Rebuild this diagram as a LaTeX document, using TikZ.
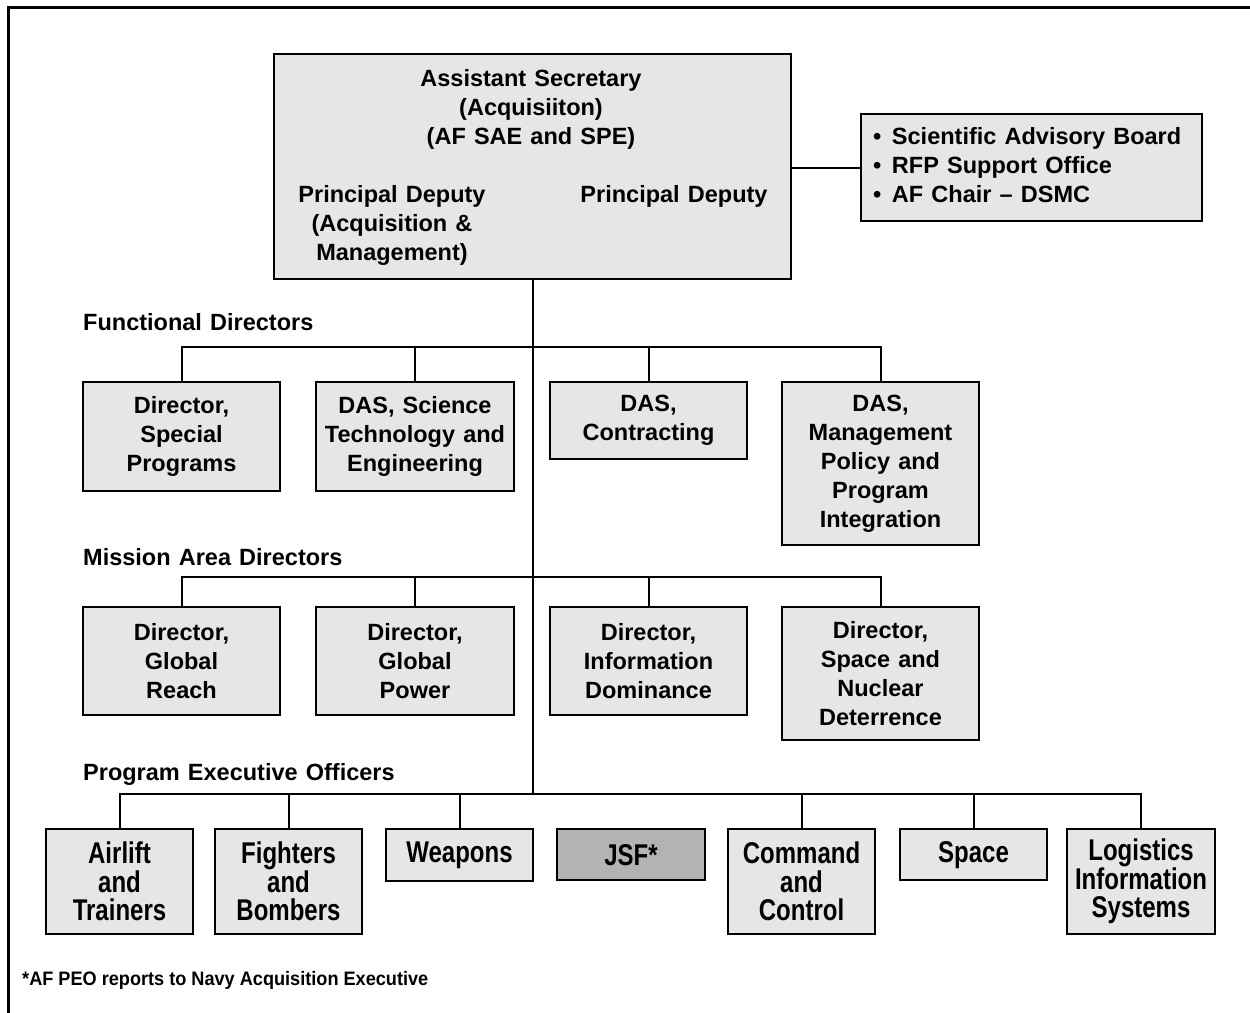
\documentclass[tikz,border=0pt]{standalone}
\usepackage{fontspec}
\newfontfamily\hd{Liberation Sans}[WordSpace={1.25}]
\newfontfamily\nar{Liberation Sans}[FakeStretch=0.8]
\newfontfamily\fnf{Liberation Sans}[FakeStretch=0.93]
\definecolor{boxfill}{HTML}{E6E6E6}
\definecolor{jsffill}{HTML}{B3B3B3}
\tikzset{
  txt/.style={font=\hd\bfseries\fontsize{23.5}{29}\selectfont, align=center, inner sep=0pt},
  ntxt/.style={font=\nar\bfseries\fontsize{30}{28.5}\selectfont, align=center, inner sep=0pt},
  obox/.style={draw, line width=2.4pt, fill=boxfill, anchor=north, inner sep=0pt},
  conn/.style={line width=2pt}
}
\begin{document}
\begin{tikzpicture}[x=1pt,y=-1pt]
\clip (0,0) rectangle (1250,1012);
\draw[line width=3pt] (8,7) rectangle (1270,1030);

% top box
\node[obox, anchor=north west, minimum width=517, minimum height=225] (top) at (273,53) {};
\node[txt] (as) at (531,109) {Assistant Secretary\\(Acquisiiton)\\(AF SAE and SPE)};
\node[txt] (pdl) at (392,225) {Principal Deputy\\(Acquisition \&\\Management)};
\node[txt] (pdr) at (674,196) {Principal Deputy};

% right box
\node[obox, anchor=north west, minimum width=341, minimum height=107] (rb) at (860,113) {};
\node[txt, align=left, anchor=west] (rbt) at (873,165) {\textbullet\hspace{0.45em}Scientific Advisory Board\\\textbullet\hspace{0.45em}RFP Support Office\\\textbullet\hspace{0.45em}AF Chair \textendash\ DSMC};
\draw[conn] (top.east |- rb.west) -- (rb.west);

% headings
\node[txt, anchor=west] (h1) at (83,322) {Functional Directors};
\node[txt, anchor=west] (h2) at (83,557) {Mission Area Directors};
\node[txt, anchor=west] (h3) at (83,774) {Program Executive Officers};

% row 1
\node[obox, minimum width=197, minimum height=109] (f1) at (181.5,381) {};
\node[txt] at (f1.center) {Director,\\Special\\Programs};
\node[obox, minimum width=198, minimum height=109] (f2) at (415,381) {};
\node[txt] at (f2.center) {DAS, Science\\Technology and\\Engineering};
\node[obox, minimum width=197, minimum height=77] (f3) at (648.5,381) {};
\node[txt] at (f3.center) {DAS,\\Contracting};
\node[obox, minimum width=197, minimum height=163] (f4) at (880.5,381) {};
\node[txt] at (f4.center) {DAS,\\Management\\Policy and\\Program\\Integration};

% row 2
\node[obox, minimum width=197, minimum height=108] (m1) at (181.5,606) {};
\node[txt] at (m1.center) {Director,\\Global\\Reach};
\node[obox, minimum width=198, minimum height=108] (m2) at (415,606) {};
\node[txt] at (m2.center) {Director,\\Global\\Power};
\node[obox, minimum width=197, minimum height=108] (m3) at (648.5,606) {};
\node[txt] at (m3.center) {Director,\\Information\\Dominance};
\node[obox, minimum width=197, minimum height=133] (m4) at (880.5,606) {};
\node[txt] at (m4.center) {Director,\\Space and\\Nuclear\\Deterrence};

% row 3
\node[obox, minimum width=147, minimum height=105] (p1) at (119.5,828) {};
\node[ntxt] at (p1.center) {Airlift\\and\\Trainers};
\node[obox, minimum width=147, minimum height=105] (p2) at (288.5,828) {};
\node[ntxt] at (p2.center) {Fighters\\and\\Bombers};
\node[obox, minimum width=147, minimum height=52] (p3) at (459.5,828) {};
\node[ntxt] at (p3.center) {Weapons};
\node[obox, fill=jsffill, minimum width=148, minimum height=51] (p4) at (631,828) {};
\node[ntxt] at (p4.center) {JSF*};
\node[obox, minimum width=147, minimum height=105] (p5) at (801.5,828) {};
\node[ntxt] at (p5.center) {Command\\and\\Control};
\node[obox, minimum width=147, minimum height=51] (p6) at (973.5,828) {};
\node[ntxt] at (p6.center) {Space};
\node[obox, minimum width=148, minimum height=105] (p7) at (1141,828) {};
\node[ntxt] at (p7.center) {Logistics\\Information\\Systems};

% footnote
\node[font=\fnf\bfseries\fontsize{19.5}{24}\selectfont, inner sep=0pt, anchor=west] (fn) at (22,980) {*AF PEO reports to Navy Acquisition Executive};

% connectors
\coordinate (b1) at (533,347);
\coordinate (b2) at (533,577);
\coordinate (b3) at (533,794);
\draw[conn] (top.south -| b1) -- (b3);
\draw[conn] (f1.north) |- (b1);
\draw[conn] (f2.north) |- (b1);
\draw[conn] (f3.north) |- (b1);
\draw[conn] (f4.north) |- (b1);
\draw[conn] (m1.north) |- (b2);
\draw[conn] (m2.north) |- (b2);
\draw[conn] (m3.north) |- (b2);
\draw[conn] (m4.north) |- (b2);
\draw[conn] (p1.north) |- (b3);
\draw[conn] (p2.north) |- (b3);
\draw[conn] (p3.north) |- (b3);
\draw[conn] (p5.north) |- (b3);
\draw[conn] (p6.north) |- (b3);
\draw[conn] (p7.north) |- (b3);
\end{tikzpicture}
\end{document}
